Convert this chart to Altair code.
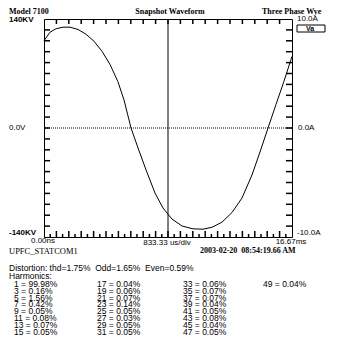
import altair as alt
import pandas as pd

# ---- data ----
t_ms = [0.0, 0.40, 0.81, 1.28, 1.75, 2.29, 2.82, 3.36, 3.90, 4.44, 4.97, 5.38, 5.85,
        6.32, 6.86, 7.46, 8.00, 8.60, 9.28, 10.01, 10.69, 11.29, 11.96, 12.64, 13.31,
        13.98, 14.52, 15.06, 15.59, 16.13, 16.67]
v_kv = [112.0, 123.0, 127.5, 129.5, 129.5, 126.5, 120.5, 111.5, 98.5, 81.5, 59.5, 35.9, 0.0,
        -25.7, -53.9, -83.5, -102.8, -116.9, -125.9, -129.5, -130.0, -127.5, -121.0, -108.5,
        -89.9, -60.4, -30.8, 0.0, 30.0, 60.0, 92.0]

harm_order = [1, 3, 5, 7, 9, 11, 13, 15, 17, 19, 21, 23, 25, 27, 29, 31,
              33, 35, 37, 39, 41, 43, 45, 47, 49]
harm_pct = [99.98, 0.16, 1.56, 0.42, 0.05, 0.08, 0.07, 0.05,
            0.04, 0.06, 0.07, 0.14, 0.05, 0.03, 0.05, 0.05,
            0.06, 0.07, 0.07, 0.04, 0.05, 0.08, 0.04, 0.05,
            0.04]

cursor_ms = [8.335]
x_domain = [0, 16.67]
y_domain = [-140, 140]

W, H = 248, 218
curve = pd.DataFrame({"t": t_ms, "v": v_kv})

xs = alt.Scale(domain=x_domain, nice=False, zero=False)
ys = alt.Scale(domain=y_domain, nice=False, zero=False)

x_div = [round(i * 16.67 / 20, 4) for i in range(1, 20)]
x_half = [round((2 * i + 1) * 16.67 / 40, 4) for i in range(20)]
y_div = [-140 + 14 * i for i in range(1, 20)]

# tick segment table (lengths converted from pixels to data units)
px_t = (x_domain[1] - x_domain[0]) / W
px_v = (y_domain[1] - y_domain[0]) / H
segs = []
for v in y_div:
    segs.append((x_domain[0], x_domain[0] + 6 * px_t, v, v))
    segs.append((x_domain[1] - 6 * px_t, x_domain[1], v, v))
for t in x_div:
    segs.append((t, t, y_domain[1], y_domain[1] - 5 * px_v))
    segs.append((t, t, y_domain[0], y_domain[0] + 6 * px_v))
for t in x_half:
    segs.append((t, t, y_domain[0], y_domain[0] + 3 * px_v))
tick_df = pd.DataFrame(segs, columns=["a", "a2", "b", "b2"])

ticks = alt.Chart(tick_df).mark_rule(color="#000000", strokeWidth=1.5, opacity=1).encode(
    x=alt.X("a:Q", scale=xs, axis=None), x2=alt.X2("a2:Q"),
    y=alt.Y("b:Q", scale=ys, axis=None), y2=alt.Y2("b2:Q"),
)

line = alt.Chart(curve).mark_line(color="black", strokeWidth=1).encode(
    x=alt.X("t:Q", scale=xs, axis=None),
    y=alt.Y("v:Q", scale=ys, axis=None),
)

zero = alt.Chart(pd.DataFrame({"z": [0]})).mark_rule(
    color="black", strokeWidth=1, strokeDash=[1, 1]
).encode(y=alt.Y("z:Q", scale=ys, axis=None))

cursor = alt.Chart(pd.DataFrame({"c": cursor_ms})).mark_rule(
    color="black", strokeWidth=1
).encode(x=alt.X("c:Q", scale=xs, axis=None))

one = pd.DataFrame({"a": [0]})


def txt(s, x, y, size=8, weight="normal", font="Liberation Sans", align="left",
        style="normal"):
    return alt.Chart(one).mark_text(
        text=s, fontSize=size, fontWeight=weight, font=font, align=align,
        baseline="middle", color="black", fontStyle=style
    ).encode(x=alt.value(x), y=alt.value(y))


serif = "Liberation Serif"
sp = "\u00a0\u00a0"
texts = [
    txt("Model 7100", -35, -7.5, 8, "bold", serif),
    txt("Snapshot Waveform", 126, -7.5, 8, "bold", serif, "center"),
    txt("Three Phase Wye", 218, -7.5, 8, "bold", serif),
    txt("140KV", -35, 0.5, 8, "bold"),
    txt("0.0V", -35, 109, 8),
    txt("-140KV", -35, 214, 8, "bold"),
    txt("10.0A", 253, 0, 8),
    txt("0.0A", 254, 109, 8),
    txt("-10.0A", 253, 214, 8),
    txt("0.00ns", -1, 222, 8, "normal", "Liberation Sans", "center"),
    txt("833.33 us/div", 123, 224, 8, "normal", "Liberation Sans", "center"),
    txt("16.67ms", 247, 223, 8, "normal", "Liberation Sans", "center"),
    txt("UPFC_STATCOM1", -35, 232, 8.5, "normal", serif),
    txt("2003-02-20" + sp + "08:54:19.66 AM", 156, 232, 8, "bold", serif),
    txt("Distortion: thd=1.75%" + sp + "Odd=1.65%" + sp + "Even=0.59%", -35, 249, 8.5),
    txt("Harmonics:", -35, 257, 8.5),
]

va_box = alt.Chart(one).mark_rect(fill="white", stroke="black", strokeWidth=1).encode(
    x=alt.value(253), x2=alt.value(281), y=alt.value(6), y2=alt.value(13)
)
va_txt = txt("Va", 262, 9.5, 7, "bold")

# harmonics table, 8 rows per column
col_x = [-30, 53, 139, 219]
cols = []
for c in range(4):
    lines = []
    for n, p in list(zip(harm_order, harm_pct))[c * 8:(c + 1) * 8]:
        pad = "\u00a0\u00a0" if n < 10 else ""
        lines.append(f"{pad}{n} = {p:.2f}%")
    df = pd.DataFrame({"label": ["\n".join(lines)]})
    cols.append(
        alt.Chart(df).mark_text(
            lineBreak="\n", lineHeight=6.8, fontSize=8.5, font="Liberation Sans",
            align="left", baseline="middle", color="black"
        ).encode(text="label:N", x=alt.value(col_x[c]), y=alt.value(265))
    )

chart = alt.layer(
    line, zero, cursor, ticks, va_box, va_txt, *texts, *cols
).properties(
    width=W, height=H,
    autosize=alt.AutoSizeParams(type="none"),
    padding={"left": 36, "top": 11, "right": 35, "bottom": 99},
    background="white",
).configure_view(stroke="black", strokeWidth=1)

chart.save("out.html", embed_options={"renderer": "svg", "actions": False})
